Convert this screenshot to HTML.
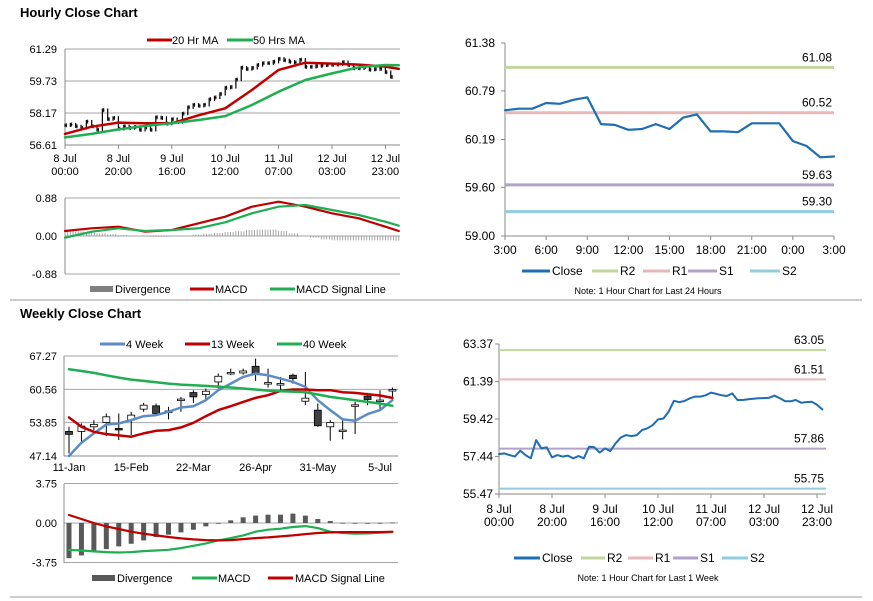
<!DOCTYPE html>
<html><head><meta charset="utf-8"><style>
html,body{margin:0;padding:0;background:#fff;}
svg{display:block;font-family:"Liberation Sans",Arial,sans-serif;}
</style></head><body>
<svg id="root" width="873" height="601" viewBox="0 0 873 601" xmlns="http://www.w3.org/2000/svg">
<rect x="0" y="0" width="873" height="601" fill="#fff"/>
<text x="20" y="17" font-size="13" font-weight="bold" fill="#000">Hourly Close Chart</text>
<line x1="10" y1="300" x2="862" y2="300" stroke="#999" stroke-width="1"/>
<text x="20" y="318" font-size="13" font-weight="bold" fill="#000">Weekly Close Chart</text>
<line x1="10" y1="597" x2="862" y2="597" stroke="#999" stroke-width="1"/>
<g id="g"></g>
</svg>
<script>
// ---- Hourly close (2-hour steps, last week) ----
const hClose = [57.57,57.61,57.52,57.44,57.75,57.52,57.35,58.31,57.87,57.93,57.40,57.52,57.44,57.49,57.35,57.47,57.35,57.96,57.93,57.65,57.87,57.73,58.14,58.45,58.57,58.52,58.57,58.84,58.93,59.10,59.40,59.44,59.80,60.38,60.31,60.37,60.51,60.60,60.60,60.67,60.81,60.74,60.67,60.63,60.77,60.42,60.42,60.46,60.49,60.51,60.52,60.54,60.65,60.51,60.35,60.35,60.42,60.28,60.31,60.33,60.16,59.93];
const maHours = [0,10,20,30,40,50,60,70,80,90,100,110,120,125];
const ma20 = [57.15,57.50,57.70,57.67,57.67,58.06,58.40,59.29,60.27,60.62,60.58,60.53,60.43,60.32];
const ma50 = [56.98,57.15,57.37,57.54,57.67,57.83,58.02,58.56,59.21,59.78,60.10,60.40,60.51,60.50];
const hTickLabels = [["8 Jul","00:00"],["8 Jul","20:00"],["9 Jul","16:00"],["10 Jul","12:00"],["11 Jul","07:00"],["12 Jul","03:00"],["12 Jul","23:00"]];
const hTickHours = [0,20,40,60,80,100,120];
const tlYTicks = [61.29,59.73,58.17,56.61];
// hourly MACD
const macdHours = [0,10,20,30,40,50,60,70,80,90,100,110,120,125];
const hMacd = [0.116,0.178,0.216,0.10,0.139,0.293,0.448,0.679,0.795,0.679,0.525,0.409,0.216,0.116];
const hSignal = [-0.039,0.10,0.178,0.116,0.139,0.178,0.317,0.525,0.679,0.718,0.602,0.486,0.332,0.239];
const hDiv = [0.12,0.10,0.08,0.06,0.04,0.02,0.01,-0.01,-0.02,-0.02,0,0.01,0.03,0.05,0.07,0.09,0.11,0.14,0.15,0.15,0.12,0.06,0,-0.04,-0.08,-0.10,-0.10,-0.10,-0.10,-0.10,-0.10,-0.11];
const tmYTicks = [0.88,0,-0.88];
// last 24 hours
const dClose = [60.55,60.57,60.57,60.64,60.63,60.68,60.71,60.38,60.37,60.31,60.32,60.38,60.32,60.46,60.50,60.29,60.29,60.28,60.39,60.39,60.39,60.17,60.11,59.97,59.98];
const dLevels = [61.08,60.52,59.63,59.30];
const dLevelNames = ["R2","R1","S1","S2"];
const dXLabels = ["3:00","6:00","9:00","12:00","15:00","18:00","21:00","0:00","3:00"];
const trYTicks = [61.38,60.79,60.19,59.60,59.00];
// last week levels
const wkLevels = [63.05,61.51,57.86,55.75];
const brYTicks = [63.37,61.39,59.42,57.44,55.47];
// ---- Weekly ----
const wOpen  = [52.09,52.09,53.02,53.89,52.69,54.36,56.57,57.24,56.00,58.40,59.91,59.51,62.05,63.90,63.86,65.20,61.92,61.72,63.39,58.17,56.37,53.02,52.36,57.44,59.18,58.40,60.52];
const wClose = [51.49,53.16,53.49,55.03,52.49,55.37,57.37,55.70,56.20,58.60,59.04,60.18,63.19,63.96,64.26,63.73,61.92,61.72,62.72,58.78,53.23,53.89,52.36,57.44,58.51,58.40,60.52];
const wHigh  = [53.02,53.69,54.36,55.70,55.70,56.03,57.84,57.70,57.04,59.04,60.38,60.72,63.73,64.73,64.73,66.74,64.73,63.06,63.73,64.06,57.70,54.36,54.36,58.04,59.85,60.38,60.92];
const wLow   = [47.67,50.02,52.36,51.15,50.35,51.35,56.03,55.70,54.50,56.03,57.84,58.17,60.72,63.39,63.52,62.25,60.92,60.38,61.70,57.37,53.02,50.22,50.48,51.55,57.37,56.70,58.37];
const w4  = [47.14,49.81,51.69,53.49,53.69,54.36,55.16,55.37,56.03,56.90,57.17,58.37,60.38,61.72,63.06,63.73,63.39,62.72,62.05,61.05,58.37,56.37,54.50,54.23,55.57,56.37,58.37];
const w13 = [54.90,53.02,52.02,51.55,51.29,51.02,51.69,52.22,52.36,52.89,53.83,55.16,56.37,57.17,58.04,58.84,59.38,60.25,60.52,60.52,60.38,60.38,59.98,59.85,59.58,59.31,58.84];
const w40 = [64.59,64.26,63.86,63.39,62.92,62.52,62.25,61.99,61.72,61.52,61.38,61.25,61.12,60.92,60.72,60.52,60.31,60.18,60.11,59.98,59.51,59.04,58.71,58.37,58.04,57.71,57.24];
const wDiv = [-3.34,-3.08,-2.61,-2.48,-2.22,-1.97,-1.65,-1.33,-1.11,-0.89,-0.64,-0.32,-0.06,0.25,0.54,0.70,0.79,0.79,0.89,0.70,0.38,0.19,0.02,0.01,0.01,0.01,0.05];
const wMacd = [-2.54,-2.61,-2.70,-2.76,-2.80,-2.76,-2.67,-2.61,-2.54,-2.38,-2.16,-1.94,-1.65,-1.43,-1.18,-0.83,-0.64,-0.54,-0.38,-0.29,-0.48,-0.83,-0.95,-1.02,-0.99,-0.92,-0.86];
const wSignal = [0.76,0.38,0,-0.32,-0.57,-0.83,-1.02,-1.18,-1.33,-1.46,-1.56,-1.62,-1.65,-1.62,-1.53,-1.43,-1.37,-1.27,-1.18,-1.05,-0.95,-0.89,-0.86,-0.86,-0.86,-0.86,-0.83];
const wXLabels = ["11-Jan","15-Feb","22-Mar","26-Apr","31-May","5-Jul"];
const wXIdx = [0,5,10,15,20,25];
const wYTicks = [67.27,60.56,53.85,47.14];
const wmYTicks = [3.75,0,-3.75];

// ---- scales ----
const xTL = h => 65 + h*2.67;
const yTL = v => 49 + (61.29-v)/(61.29-56.61)*96;
const yTM = v => 236 - v/0.88*38;
const xTR = i => 505 + i*(329/24);
const yTR = v => 43 + (61.38-v)/(61.38-59.00)*193;
const xBR = h => 499 + h*2.65;
const yBR = v => 344 + (63.37-v)/(63.37-55.47)*150;
const xW = i => 69 + i*12.44;
const yW = v => 356 + (67.27-v)/(67.27-47.14)*100;
const yWM = v => 523 - v/3.75*39.5;

const NS="http://www.w3.org/2000/svg";
const G=document.getElementById('g');
function mk(tag, at, parent){const e=document.createElementNS(NS,tag);for(const k in at)e.setAttribute(k,at[k]);(parent||G).appendChild(e);return e;}
function txt(x,y,s,at){const e=mk('text',Object.assign({x:x,y:y,'font-size':11,fill:'#000'},at||{}));e.textContent=s;return e;}
function poly(pts,color,w){return mk('polyline',{points:pts.map(p=>p[0].toFixed(1)+','+p[1].toFixed(1)).join(' '),fill:'none',stroke:color,'stroke-width':w,'stroke-linejoin':'round','stroke-linecap':'round'});}
const RED="#c00000", GRN="#1fae52", BLUE="#1f6db3", LBLUE="#5b8cc8";
const LVLC=["#c3d69b","#e6b9b8","#b3a2c7","#93cddd"];

// ===== Top-left price =====
tlYTicks.forEach((v,i)=>{
  const gl=mk('line',{x1:65,x2:400,y1:yTL(v),y2:yTL(v),stroke:i===tlYTicks.length-1?'#888':'#a6a6a6','stroke-width':1});
  
  
  const t=txt(57,yTL(v)+4,v.toFixed(2),{'text-anchor':'end'});
  
  
});
mk('line',{x1:65,x2:65,y1:49,y2:145,stroke:'#888'});
hTickHours.forEach((h,i)=>{
  mk('line',{x1:xTL(h),x2:xTL(h),y1:145,y2:149,stroke:'#888'});
  const t1=txt(xTL(h),162,hTickLabels[i][0],{'text-anchor':'middle'});
  
  
  const t2=txt(xTL(h),175,hTickLabels[i][1],{'text-anchor':'middle'});
  
  
});
hClose.forEach((c,i)=>{
  const p = i>0?hClose[i-1]:c;
  const hi=Math.max(p,c)+0.08, lo=Math.min(p,c)-0.08;
  const x=xTL(i*2);
  const b=mk('line',{x1:x,x2:x,y1:yTL(hi),y2:yTL(lo),stroke:'#000','stroke-width':1.2});
  
  
  mk('line',{x1:x,x2:x+2,y1:yTL(c),y2:yTL(c),stroke:'#000','stroke-width':1});
  mk('line',{x1:x+1.3,x2:x+1.3,y1:yTL(c)-2,y2:yTL(c)+2,stroke:'#000','stroke-width':1});
});
const l20=poly(maHours.map((h,i)=>[xTL(h),yTL(ma20[i])]),RED,2.5);


const l50=poly(maHours.map((h,i)=>[xTL(h),yTL(ma50[i])]),GRN,2.5);


// legend
mk('line',{x1:147,x2:172,y1:40,y2:40,stroke:RED,'stroke-width':3});
const lg1=txt(172,44,"20 Hr MA");


mk('line',{x1:227,x2:253,y1:40,y2:40,stroke:GRN,'stroke-width':3});
const lg2=txt(253,44,"50 Hrs MA");



// ===== Top-left MACD =====
tmYTicks.forEach((v,i)=>{
  const gl=mk('line',{x1:65,x2:400,y1:yTM(v),y2:yTM(v),stroke:'#a6a6a6'});
  
  
  const t=txt(57,yTM(v)+4,v.toFixed(2),{'text-anchor':'end'});
  
  
});
mk('line',{x1:65,x2:65,y1:198,y2:274,stroke:'#888'});
hDiv.forEach((d,i)=>{
  for(let k=0;k<4;k++){
    const x=xTL(i*4+k);
    if(x>400)continue;
    const b=mk('line',{x1:x,x2:x,y1:yTM(0),y2:yTM(d),stroke:'#999','stroke-width':0.9});
    
    
  }
});
const lm=poly(macdHours.map((h,i)=>[xTL(h),yTM(hMacd[i])]),RED,2.2);


const ls=poly(macdHours.map((h,i)=>[xTL(h),yTM(hSignal[i])]),GRN,2.2);


mk('rect',{x:90,y:286,width:23,height:6,fill:'#808080'});
const d1=txt(115,293,"Divergence");


mk('line',{x1:190,x2:214,y1:289,y2:289,stroke:RED,'stroke-width':3});
const d2=txt(215,293,"MACD");


mk('line',{x1:270,x2:295,y1:289,y2:289,stroke:GRN,'stroke-width':3});
const d3=txt(296,293,"MACD Signal Line");



// ===== Top-right 24h =====
mk('line',{x1:505,x2:505,y1:43,y2:236,stroke:'#888'});
mk('line',{x1:505,x2:834,y1:236,y2:236,stroke:'#888'});
trYTicks.forEach(v=>{
  mk('line',{x1:501,x2:505,y1:yTR(v),y2:yTR(v),stroke:'#888'});
  const t=txt(495,yTR(v)+4,v.toFixed(2),{'text-anchor':'end','font-size':12});
  
  
});
dXLabels.forEach((s,i)=>{
  const x=xTR(i*3);
  mk('line',{x1:x,x2:x,y1:236,y2:240,stroke:'#888'});
  const t=txt(x,254,s,{'text-anchor':'middle','font-size':12});
  
  
});
dLevels.forEach((v,i)=>{
  const l=mk('line',{x1:505,x2:834,y1:yTR(v),y2:yTR(v),stroke:LVLC[i],'stroke-width':3});
  
  
  const t=txt(832,yTR(v)-6,v.toFixed(2),{'text-anchor':'end','font-size':12});
  
  
});
const dc=poly(dClose.map((v,i)=>[xTR(i),yTR(v)]),BLUE,2.2);


function levelLegend(y,items){
  items.forEach(it=>{
    mk('line',{x1:it[0],x2:it[1],y1:y,y2:y,stroke:it[3],'stroke-width':3});
    const t=txt(it[1]+2,y+4,it[2],{'font-size':12});
    
    
  });
}
levelLegend(271,[[522,550,"Close",BLUE],[592,618,"R2",LVLC[0]],[643,670,"R1",LVLC[1]],[688,717,"S1",LVLC[2]],[750,780,"S2",LVLC[3]]]);
const n1=txt(648,294,"Note: 1 Hour Chart for Last 24 Hours",{'text-anchor':'middle','font-size':9});



// ===== Bottom-right week =====
mk('line',{x1:499,x2:499,y1:344,y2:494,stroke:'#888'});
mk('line',{x1:499,x2:826,y1:494,y2:494,stroke:'#888'});
brYTicks.forEach(v=>{
  mk('line',{x1:495,x2:499,y1:yBR(v),y2:yBR(v),stroke:'#888'});
  const t=txt(493,yBR(v)+4,v.toFixed(2),{'text-anchor':'end','font-size':12});
  
  
});
hTickHours.forEach((h,i)=>{
  const x=xBR(h);
  mk('line',{x1:x,x2:x,y1:494,y2:498,stroke:'#888'});
  const t1=txt(x,513,hTickLabels[i][0],{'text-anchor':'middle','font-size':12});
  
  
  const t2=txt(x,526,hTickLabels[i][1],{'text-anchor':'middle','font-size':12});
  
  
});
wkLevels.forEach((v,i)=>{
  const l=mk('line',{x1:499,x2:826,y1:yBR(v),y2:yBR(v),stroke:LVLC[i],'stroke-width':2});
  
  
  const t=txt(824,yBR(v)-6,v.toFixed(2),{'text-anchor':'end','font-size':12});
  
  
});
const wc=poly(hClose.map((v,i)=>[xBR(i*2),yBR(v)]),BLUE,2);


levelLegend(558,[[514,540,"Close",BLUE],[581,605,"R2",LVLC[0]],[628,653,"R1",LVLC[1]],[673,698,"S1",LVLC[2]],[722,748,"S2",LVLC[3]]]);
const n2=txt(648,581,"Note: 1 Hour Chart for Last 1 Week",{'text-anchor':'middle','font-size':9});



// ===== Weekly price =====
wYTicks.forEach((v,i)=>{
  const gl=mk('line',{x1:64,x2:398,y1:yW(v),y2:yW(v),stroke:i===wYTicks.length-1?'#888':'#a6a6a6'});
  
  
  const t=txt(57,yW(v)+4,v.toFixed(2),{'text-anchor':'end'});
  
  
});
mk('line',{x1:64,x2:64,y1:356,y2:456,stroke:'#888'});
wXIdx.forEach((idx,i)=>{
  const t=txt(xW(idx),471,wXLabels[i],{'text-anchor':'middle'});
  
  
});
wOpen.forEach((o,i)=>{
  const c=wClose[i], x=xW(i);
  const w=mk('line',{x1:x,x2:x,y1:yW(wHigh[i]),y2:yW(wLow[i]),stroke:'#000','stroke-width':1});
  
  
  const top=yW(Math.max(o,c)), bot=yW(Math.min(o,c));
  const b=mk('rect',{x:x-3.5,y:top,width:7,height:Math.max(bot-top,1.5),fill:c<o?'#404040':'#fff',stroke:'#000','stroke-width':0.8});
  
  
});
const w4l=poly(w4.map((v,i)=>[xW(i),yW(v)]),LBLUE,2.5);


const w13l=poly(w13.map((v,i)=>[xW(i),yW(v)]),RED,2.5);


const w40l=poly(w40.map((v,i)=>[xW(i),yW(v)]),GRN,2.5);


mk('line',{x1:100,x2:125,y1:344,y2:344,stroke:LBLUE,'stroke-width':3});
const wl1=txt(126,348,"4 Week");


mk('line',{x1:185,x2:210,y1:344,y2:344,stroke:RED,'stroke-width':3});
const wl2=txt(211,348,"13 Week");


mk('line',{x1:277,x2:302,y1:344,y2:344,stroke:GRN,'stroke-width':3});
const wl3=txt(303,348,"40 Week");



// ===== Weekly MACD =====
wmYTicks.forEach(v=>{
  const gl=mk('line',{x1:64,x2:398,y1:yWM(v),y2:yWM(v),stroke:'#a6a6a6'});
  
  
  const t=txt(57,yWM(v)+4,v.toFixed(2),{'text-anchor':'end'});
  
  
});
mk('line',{x1:64,x2:64,y1:484,y2:563,stroke:'#888'});
wDiv.forEach((d,i)=>{
  const y0=yWM(0), y1=yWM(d);
  const b=mk('rect',{x:xW(i)-2.5,y:Math.min(y0,y1),width:5,height:Math.max(Math.abs(y1-y0),0.8),fill:'#595959'});
  
  
});
const wml=poly(wMacd.map((v,i)=>[xW(i),yWM(v)]),GRN,2.2);


const wsl=poly(wSignal.map((v,i)=>[xW(i),yWM(v)]),RED,2.2);


mk('rect',{x:92,y:575,width:23,height:6,fill:'#595959'});
const wd1=txt(117,582,"Divergence");


mk('line',{x1:192,x2:217,y1:578,y2:578,stroke:GRN,'stroke-width':3});
const wd2=txt(218,582,"MACD");


mk('line',{x1:268,x2:293,y1:578,y2:578,stroke:RED,'stroke-width':3});
const wd3=txt(295,582,"MACD Signal Line");


</script>
</body></html>
